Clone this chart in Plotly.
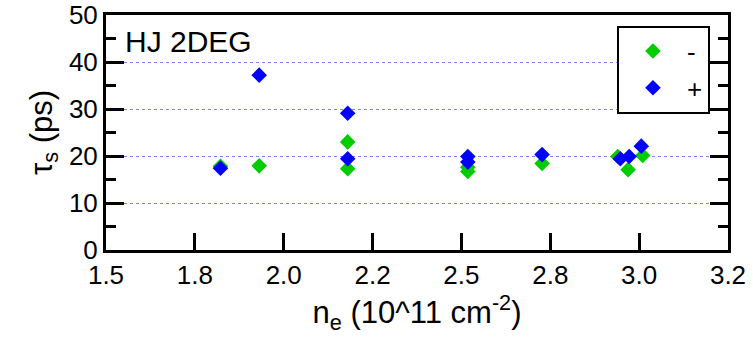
import plotly.graph_objects as go

# Spin lifetime vs. electron density for the two helicities
ne_minus = [1.822, 1.931, 2.18, 2.18, 2.518, 2.518, 2.727, 2.94, 2.969, 3.01]
tau_minus = [17.8, 17.9, 23.0, 17.3, 17.6, 16.7, 18.4, 19.9, 17.1, 20.1]

ne_plus = [1.822, 1.931, 2.18, 2.18, 2.518, 2.518, 2.727, 2.947, 2.972, 3.006]
tau_plus = [17.4, 37.2, 29.1, 19.4, 19.9, 18.7, 20.3, 19.4, 19.9, 22.1]

x_tickvals = [1.5, 1.75, 2.0, 2.25, 2.5, 2.75, 3.0, 3.25]
x_ticktext = ["1.5", "1.8", "2.0", "2.2", "2.5", "2.8", "3.0", "3.2"]
y_tickvals = [0, 10, 20, 30, 40, 50]

FONT = "Liberation Sans, Arial, sans-serif"
INK = "#000000"

fig = go.Figure()
fig.add_trace(go.Scatter(
    x=ne_minus, y=tau_minus, mode="markers", name="-", legendgroup="m",
    marker=dict(symbol="diamond", size=12, color="#00cc00", line=dict(width=0)),
))
fig.add_trace(go.Scatter(
    x=ne_plus, y=tau_plus, mode="markers", name="+", legendgroup="p",
    marker=dict(symbol="diamond", size=12, color="#0000ff", line=dict(width=0)),
))

fig.add_annotation(
    x=0.027, y=0.965, xref="paper", yref="paper", xanchor="left", yanchor="top",
    text="HJ 2DEG", showarrow=False, font=dict(family=FONT, size=30, color=INK),
)

fig.update_layout(
    template="none",
    width=753, height=339,
    margin=dict(l=106, r=25, t=15, b=89, autoexpand=False),
    font=dict(family=FONT, size=26, color=INK),
    showlegend=True,
    legend=dict(
        x=0.971, y=0.955, xanchor="right", yanchor="top",
        bordercolor=INK, borderwidth=2, bgcolor="white",
        itemwidth=58, tracegroupgap=0,
    ),
    xaxis=dict(
        range=[1.5, 3.25], tickvals=x_tickvals, ticktext=x_ticktext,
        ticks="inside", ticklen=17, tickwidth=3, tickcolor=INK,
        showline=True, linewidth=3, linecolor=INK, mirror=True,
        showgrid=False, zeroline=False,
        title=dict(text="n<sub>e</sub> (10^11 cm<sup>-2</sup>)", standoff=4),
    ),
    yaxis=dict(
        range=[0, 50], tickvals=y_tickvals,
        ticks="inside", ticklen=18, tickwidth=3, tickcolor=INK,
        showline=True, linewidth=3, linecolor=INK, mirror="ticks",
        showgrid=True, gridcolor="#8080ff", gridwidth=1, griddash="dot",
        zeroline=False,
        minor=dict(dtick=5, ticks="inside", ticklen=10, tickwidth=3,
                   tickcolor=INK, showgrid=False),
        title=dict(text="τ<sub>s</sub> (ps)", standoff=8),
    ),
)

fig.write_html("out.html")
